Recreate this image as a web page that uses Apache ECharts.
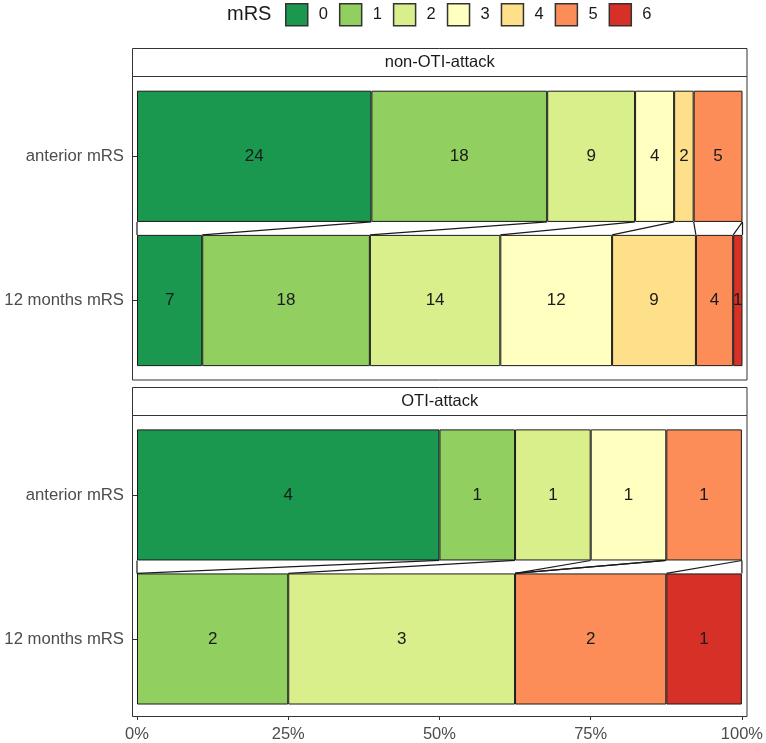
<!doctype html>
<html>
<head>
<meta charset="utf-8">
<title>mRS shift</title>
<script src="https://cdn.jsdelivr.net/npm/echarts@6/dist/echarts.min.js"></script>
<style>
	html, body { margin: 0; padding: 0; background: #fff; }
	#main { width: 766px; height: 743px; }
</style>
</head>
<body>
<div id="main"></div>
<script>
	var mrsLevels = ['0', '1', '2', '3', '4', '5', '6'];
	var mrsColors = ['#1a9850', '#91cf60', '#d9ef8b', '#ffffbf', '#fee08b', '#fc8d59', '#d73027'];
	var timepoints = ['anterior mRS', '12 months mRS'];
	var facets = ['non-OTI-attack', 'OTI-attack'];
	// patient counts per mRS level
	var nonOtiAnterior = [24, 18, 9, 4, 2, 5, 0];
	var nonOti12m = [7, 18, 14, 12, 9, 4, 1];
	var otiAnterior = [4, 1, 1, 1, 0, 1, 0];
	var oti12m = [0, 2, 3, 0, 0, 2, 1];
	var pctTicks = [0, 0.25, 0.5, 0.75, 1];

	var facetData = [[nonOtiAnterior, nonOti12m], [otiAnterior, oti12m]];
	var BAR_SHARE = 0.91;
	var FONT = 'Liberation Sans, Arial, sans-serif';

	function total(arr) {
		var s = 0;
		for (var i = 0; i < arr.length; i++) s += arr[i];
		return s;
	}
	function cumulative(arr) {
		var t = total(arr), run = 0, out = [0];
		for (var i = 0; i < arr.length; i++) { run += arr[i]; out.push(run / t); }
		return out;
	}

	var series = [];
	facetData.forEach(function (pair, f) {
		mrsLevels.forEach(function (lvl, i) {
			series.push({
				type: 'bar',
				name: lvl,
				stack: 'facet' + f,
				xAxisIndex: f,
				yAxisIndex: f,
				barWidth: (BAR_SHARE * 100) + '%',
				itemStyle: { color: mrsColors[i], borderColor: '#1a1a1a', borderWidth: 1 },
				label: {
					show: true, position: 'inside', fontSize: 17, color: '#1a1a1a',
					formatter: function (p) { return p.data.count; }
				},
				data: pair.map(function (counts) {
					if (!counts[i]) return '-';
					return { value: counts[i] / total(counts), count: counts[i] };
				})
			});
		});
		// lines joining the same boundary in both bars
		var cumTop = cumulative(pair[0]);
		var cumBot = cumulative(pair[1]);
		series.push({
			type: 'custom',
			name: 'links',
			xAxisIndex: f,
			yAxisIndex: f,
			silent: true,
			encode: { x: [0, 1], y: 2 },
			data: cumTop.map(function (c, k) { return [c, cumBot[k], 0]; }),
			renderItem: function (params, api) {
				var top = api.coord([api.value(0), 0]);
				var bot = api.coord([api.value(1), 1]);
				var half = api.size([0, 1])[1] * BAR_SHARE / 2;
				return {
					type: 'line',
					shape: { x1: top[0], y1: top[1] + half, x2: bot[0], y2: bot[1] - half },
					style: { stroke: '#1a1a1a', lineWidth: 1.2 }
				};
			}
		});
	});

	var frame = { stroke: '#333', lineWidth: 1 };
	var stripText = { fontSize: 16.5, fill: '#1a1a1a', align: 'center', verticalAlign: 'middle', fontFamily: FONT };
	var option = {
		animation: false,
		textStyle: { fontFamily: FONT },
		title: {
			text: 'mRS', left: 227, top: 4, padding: 0,
			textStyle: { fontSize: 20, fontWeight: 'normal', color: '#1a1a1a' }
		},
		legend: {
			data: mrsLevels, left: 285, top: 3, padding: 0,
			itemWidth: 22, itemHeight: 22, itemGap: 11,
			icon: 'rect', selectedMode: false,
			itemStyle: { borderColor: '#333', borderWidth: 1.5 },
			textStyle: { fontSize: 16.5, color: '#1a1a1a', padding: [0, 0, 0, 6] }
		},
		grid: [
			{ left: 137, width: 605.5, top: 84.2, height: 288.4 },
			{ left: 137, width: 605.5, top: 422.9, height: 288.6 }
		],
		xAxis: [
			{ gridIndex: 0, type: 'value', min: 0, max: 1, show: false },
			{
				gridIndex: 1, type: 'value', min: 0, max: 1, interval: pctTicks[1], offset: 5,
				axisLine: { show: false },
				axisTick: { show: true, length: 4, lineStyle: { color: '#333' } },
				splitLine: { show: false },
				axisLabel: {
					fontSize: 16.5, color: '#4d4d4d', margin: 10,
					formatter: function (v) { return Math.round(v * 100) + '%'; }
				}
			}
		],
		yAxis: [0, 1].map(function (f) {
			return {
				gridIndex: f, type: 'category', inverse: true, data: timepoints, offset: 5,
				axisLine: { show: false },
				axisTick: { show: true, alignWithLabel: true, length: 5, lineStyle: { color: '#333' } },
				axisLabel: { fontSize: 16.7, color: '#4d4d4d', margin: 8 }
			};
		}),
		graphic: [
			{ type: 'rect', z: 100, shape: { x: 132.5, y: 48.5, width: 614.5, height: 28 }, style: Object.assign({ fill: '#fff' }, frame) },
			{ type: 'rect', z: 100, shape: { x: 132.5, y: 76.5, width: 614.5, height: 303.5 }, style: Object.assign({ fill: 'none' }, frame) },
			{ type: 'rect', z: 100, shape: { x: 132.5, y: 387.5, width: 614.5, height: 28 }, style: Object.assign({ fill: '#fff' }, frame) },
			{ type: 'rect', z: 100, shape: { x: 132.5, y: 415.5, width: 614.5, height: 301 }, style: Object.assign({ fill: 'none' }, frame) },
			{ type: 'text', z: 101, x: 439.75, y: 62.5, style: Object.assign({ text: facets[0] }, stripText) },
			{ type: 'text', z: 101, x: 439.75, y: 401.5, style: Object.assign({ text: facets[1] }, stripText) }
		],
		series: series
	};

	var chart = echarts.init(document.getElementById('main'));
	chart.setOption(option);
</script>
</body>
</html>
